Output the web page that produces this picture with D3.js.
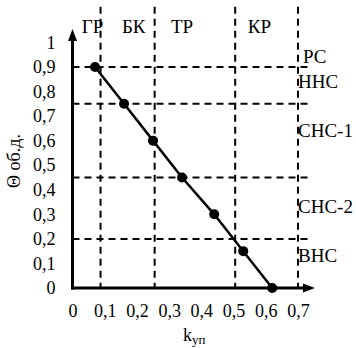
<!DOCTYPE html>
<html>
<head>
<meta charset="utf-8">
<script src="https://cdn.jsdelivr.net/npm/d3@7"></script>
<style>
  html, body { margin: 0; padding: 0; background: #fff; }
  svg { display: block; }
  svg text { font-family: "Liberation Serif", "Times New Roman", Times, serif !important; font-size: 18px; fill: #000; }
  svg text.zone { font-size: 19px; }
</style>
</head>
<body>
<svg id="chart" width="356" height="348"></svg>
<script>
// Stability index Θ versus coefficient k_уп
const kValues     = [0.07, 0.16, 0.25, 0.34, 0.44, 0.53, 0.62];
const thetaValues = [0.90, 0.75, 0.60, 0.45, 0.30, 0.15, 0.00];

// Zone boundaries along k (vertical) and Θ (horizontal)
const kBounds     = [0.087, 0.255, 0.505, 0.70];
const thetaBounds = [0.90, 0.75, 0.45, 0.20];

// Zone names across the top and along the right edge
const kZones = [
  { name: "ГР", k: 0.062 },
  { name: "БК", k: 0.19 },
  { name: "ТР", k: 0.34 },
  { name: "КР", k: 0.58 }
];
const thetaZones = [
  { name: "РС",    theta: 0.94, dx: 5 },
  { name: "ННС",   theta: 0.84, dx: 0 },
  { name: "СНС-1", theta: 0.64, dx: 0 },
  { name: "СНС-2", theta: 0.33, dx: 0 },
  { name: "ВНС",   theta: 0.13, dx: 0 }
];

const xTicks = [0, 0.1, 0.2, 0.3, 0.4, 0.5, 0.6, 0.7];
const yTicks = [0, 0.1, 0.2, 0.3, 0.4, 0.5, 0.6, 0.7, 0.8, 0.9, 1];
const fmt = v => (v === 0 || v === 1) ? String(v) : d3.format(".1f")(v).replace(".", ",");

const svg = d3.select("#chart");
const x = d3.scaleLinear().domain([0, 0.7]).range([72.5, 298]);
const y = d3.scaleLinear().domain([0, 1]).range([288, 42.4]);

// Dashed zone grid
const dash = svg.append("g")
  .attr("stroke", "#000").attr("stroke-width", 2).attr("stroke-dasharray", "7,5").attr("fill", "none");
dash.selectAll("line.v").data(kBounds).join("line").attr("class", "v")
  .attr("x1", d => x(d)).attr("x2", d => x(d))
  .attr("y1", y(1.145)).attr("y2", y(0));
dash.selectAll("line.h").data(thetaBounds).join("line").attr("class", "h")
  .attr("x1", x(0)).attr("x2", x(0.745))
  .attr("y1", d => y(d)).attr("y2", d => y(d));

// Tick labels via D3 axes (tick marks and domain hidden)
const xAxis = svg.append("g").attr("transform", `translate(0,${y(0)})`)
  .call(d3.axisBottom(x).tickValues(xTicks).tickFormat(fmt).tickSize(0).tickPadding(16));
xAxis.select(".domain").remove();
xAxis.attr("font-family", null).attr("font-size", null);

const yAxis = svg.append("g").attr("transform", `translate(${x(0)},0)`)
  .call(d3.axisLeft(y).tickValues(yTicks).tickFormat(fmt).tickSize(0).tickPadding(17));
yAxis.select(".domain").remove();
yAxis.attr("font-family", null).attr("font-size", null);

// Axis lines with arrow heads
svg.append("line").attr("x1", x(0)).attr("x2", x(0)).attr("y1", y(0) + 1.5).attr("y2", 38)
  .attr("stroke", "#000").attr("stroke-width", 3);
svg.append("path").attr("d", `M${x(0)},29 L${x(0) - 4.5},41 L${x(0) + 4.5},41 Z`).attr("fill", "#000");
svg.append("line").attr("x1", x(0) - 1.5).attr("x2", 306).attr("y1", y(0)).attr("y2", y(0))
  .attr("stroke", "#000").attr("stroke-width", 3);
svg.append("path").attr("d", `M315,${y(0)} L303,${y(0) - 4.5} L303,${y(0) + 4.5} Z`).attr("fill", "#000");

// Data line and markers
const pts = kValues.map((k, i) => [k, thetaValues[i]]);
svg.append("path").datum(pts)
  .attr("d", d3.line().x(d => x(d[0])).y(d => y(d[1])))
  .attr("fill", "none").attr("stroke", "#000").attr("stroke-width", 2.5);
svg.selectAll("circle.pt").data(pts).join("circle").attr("class", "pt")
  .attr("cx", d => x(d[0])).attr("cy", d => y(d[1])).attr("r", 5).attr("fill", "#000");

// Zone names
svg.selectAll("text.kz").data(kZones).join("text").attr("class", "kz zone")
  .attr("x", d => x(d.k)).attr("y", 33).attr("text-anchor", "middle").text(d => d.name);
svg.selectAll("text.tz").data(thetaZones).join("text").attr("class", "tz zone")
  .attr("x", d => x(0.7) + d.dx).attr("y", d => y(d.theta) + 6).text(d => d.name);

// Axis titles
svg.append("text").attr("transform", "translate(20,161) rotate(-90)")
  .attr("text-anchor", "middle").text("Θ об.д.");
const xt = svg.append("text").attr("x", 183).attr("y", 341);
xt.append("tspan").text("k");
xt.append("tspan").attr("dy", 3).style("font-size", "13px").text("уп");
</script>
</body>
</html>
